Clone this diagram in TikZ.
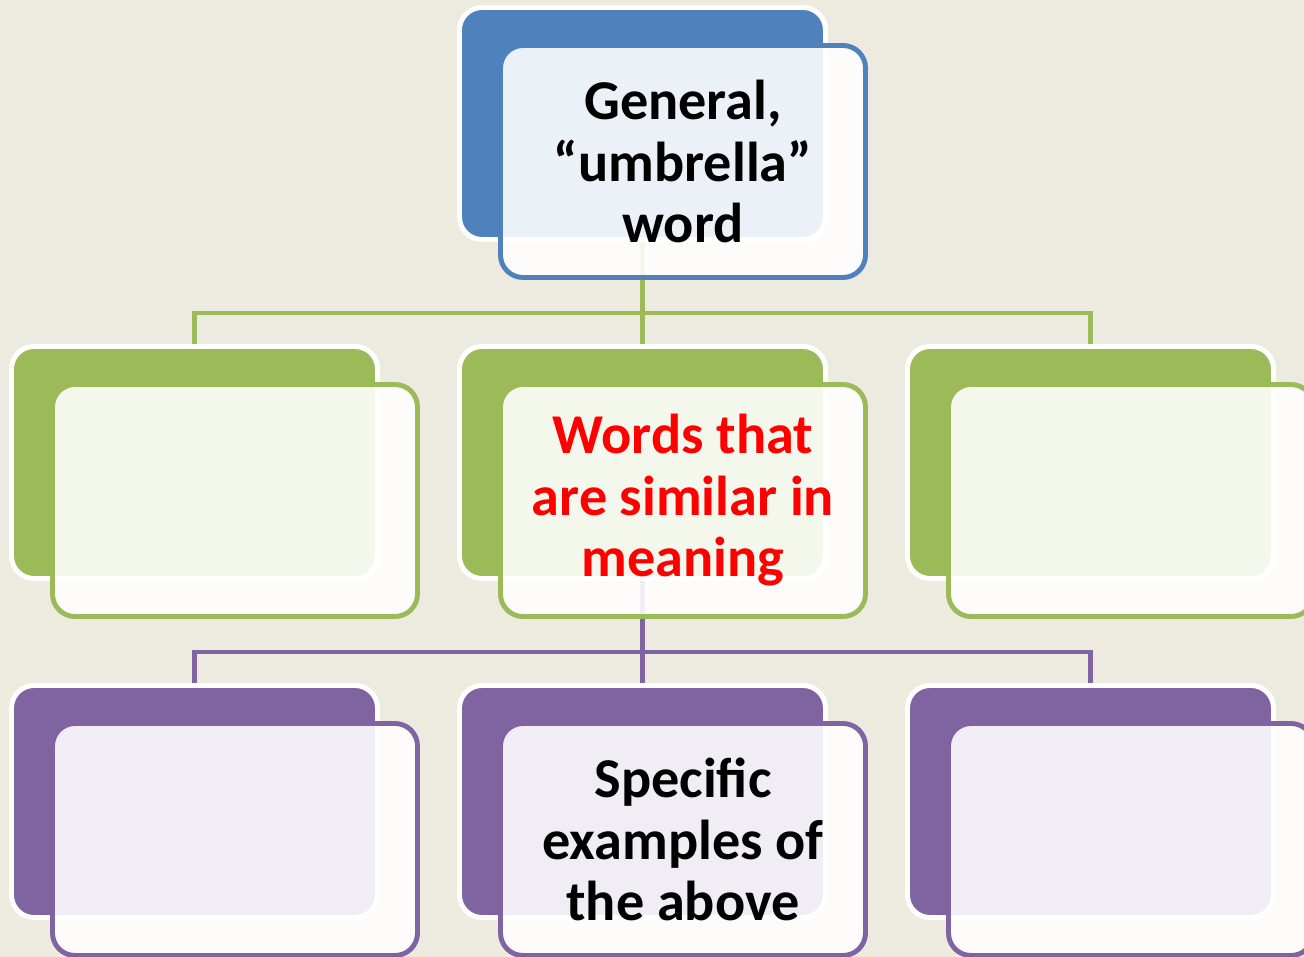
\documentclass[tikz,border=0pt]{standalone}
\usepackage{fontspec}
\setmainfont{Carlito}
\usetikzlibrary{positioning}
\usetikzlibrary{backgrounds}
\definecolor{paper}{RGB}{237,235,224}
\definecolor{topblue}{RGB}{79,129,189}
\definecolor{midgreen}{RGB}{155,187,89}
\definecolor{lowpurple}{RGB}{128,100,162}
\definecolor{wordred}{RGB}{255,0,0}

\begin{document}
\begin{tikzpicture}[
    node distance=6.78cm and 8.96cm,
    on grid,
    backbox/.style={rectangle, rounded corners=0.45cm, minimum width=7.32cm, minimum height=4.64cm, fill=#1, draw=white, line width=2.8pt},
    frontbox/.style={rectangle, rounded corners=0.45cm, minimum width=7.3cm, minimum height=4.64cm, draw=#1, line width=2.8pt, fill=white, fill opacity=0.89, text opacity=1, align=center, font=\fontsize{32}{35}\selectfont\bfseries},
    link/.style={draw=#1, line width=2.5pt}
]
\useasboundingbox (0,0) rectangle (26.08,19.14);

% Back boxes
\node[backbox=topblue] (general) at (12.85,16.67) {};
\node[backbox=midgreen] (similar) [below=of general] {};
\node[backbox=midgreen] (simleft) [left=of similar] {};
\node[backbox=midgreen] (simright) [right=of similar] {};
\node[backbox=lowpurple] (specific) [below=of similar] {};
\node[backbox=lowpurple] (specleft) [left=of specific] {};
\node[backbox=lowpurple] (specright) [right=of specific] {};

% Front boxes
\node[frontbox=topblue] (generaltext) [below right=0.76cm and 0.81cm of general] {General,\\“umbrella”\\word};
\node[frontbox=midgreen, text=wordred] (similartext) [below right=0.76cm and 0.81cm of similar] {Words that\\are similar in\\meaning};
\node[frontbox=midgreen] (simlefttext) [below right=0.76cm and 0.81cm of simleft] {};
\node[frontbox=midgreen] (simrighttext) [below right=0.76cm and 0.81cm of simright] {};
\node[frontbox=lowpurple] (specifictext) [below right=0.76cm and 0.81cm of specific] {Specific\\examples of\\the above};
\node[frontbox=lowpurple] (speclefttext) [below right=0.76cm and 0.81cm of specleft] {};
\node[frontbox=lowpurple] (specrighttext) [below right=0.76cm and 0.81cm of specright] {};

% Connectors
\coordinate (greenbus) at (0,12.88);
\coordinate (purplebus) at (0,6.10);
\begin{scope}[on background layer]
\fill[paper] (0,0) rectangle (26.08,19.14);
\draw[link=midgreen] (general.south) -- (similar.north);
\draw[link=midgreen] (simleft.north) -- (simleft.north |- greenbus) -- (simright.north |- greenbus) -- (simright.north);
\draw[link=lowpurple] (similar.south) -- (specific.north);
\draw[link=lowpurple] (specleft.north) -- (specleft.north |- purplebus) -- (specright.north |- purplebus) -- (specright.north);
\end{scope}

\end{tikzpicture}
\end{document}
